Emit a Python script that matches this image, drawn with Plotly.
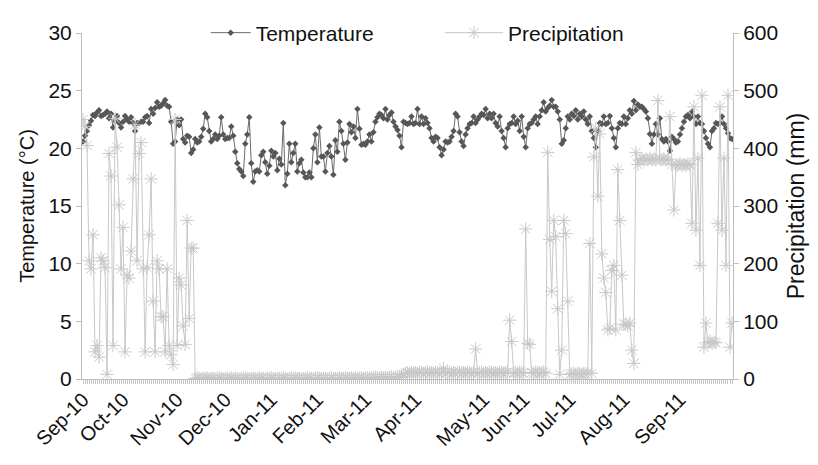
import plotly.graph_objects as go

# ---- data ----
month_labels = ["Sep-10", "Oct-10", "Nov-10", "Dec-10", "Jan-11", "Feb-11", "Mar-11",
                "Apr-11", "May-11", "Jun-11", "Jul-11", "Aug-11", "Sep-11"]
month_start_index = [0, 20, 47, 71, 94, 117, 141, 166, 200, 220, 243, 270, 298]

temperature = [
    20.6, 21.1, 21.5, 22.0, 22.4, 22.9, 22.8, 23.1, 23.3, 22.8,
    22.9, 23.0, 23.2, 22.6, 23.0, 21.8, 22.4, 22.8, 22.2, 21.8,
    22.3, 22.8, 22.5, 22.3, 22.7, 22.2, 21.5, 22.2, 22.2, 22.3,
    22.3, 22.7, 22.8, 22.2, 23.4, 23.0, 23.5, 24.0, 23.6, 23.7,
    23.9, 24.2, 23.7, 23.6, 22.3, 20.4, 20.6, 22.5, 22.0, 22.5,
    20.8, 20.5, 21.1, 21.0, 19.6, 19.9, 20.8, 20.5, 20.6, 21.0,
    21.7, 23.0, 22.7, 21.5, 20.6, 20.8, 21.2, 20.8, 21.1, 22.7,
    21.2, 20.8, 20.9, 20.9, 21.9, 21.1, 19.7, 18.7, 18.2, 18.0,
    17.6, 20.4, 21.2, 22.7, 18.7, 17.1, 18.0, 18.1, 18.0, 19.4,
    19.7, 18.8, 17.8, 18.5, 19.8, 19.3, 19.6, 18.1, 19.1, 18.6,
    22.2, 16.8, 17.8, 20.4, 18.8, 19.6, 20.4, 18.0, 18.7, 19.0,
    17.9, 17.5, 17.5, 17.9, 17.5, 20.0, 21.2, 18.8, 21.8, 19.3,
    19.3, 18.0, 19.6, 20.2, 19.3, 17.7, 20.7, 19.7, 22.3, 21.5,
    20.4, 19.0, 20.5, 22.1, 21.4, 21.9, 20.9, 23.4, 21.7, 20.3,
    20.4, 20.3, 20.6, 21.2, 20.6, 21.4, 22.3, 22.7, 23.0, 22.9,
    22.6, 23.4, 22.5, 22.9, 23.1, 22.3, 21.9, 21.6, 21.1, 20.1,
    22.3, 22.2, 22.1, 22.2, 22.75, 22.1, 22.2, 23.4, 22.1, 22.75,
    22.1, 22.6, 22.2, 21.75, 20.9, 20.6, 21.0, 20.9, 20.1, 19.4,
    19.9, 20.6, 20.5, 20.6, 21.0, 21.5, 23.0, 22.75, 21.4, 20.6,
    20.2, 21.2, 21.75, 22.1, 22.2, 22.75, 22.2, 22.5, 22.75, 23.0,
    22.9, 23.4, 22.6, 23.0, 22.6, 23.0, 22.2, 21.9, 22.75, 21.5,
    20.9, 20.1, 21.75, 22.1, 22.2, 22.75, 22.1, 22.4, 21.5, 22.75,
    21.0, 20.1, 21.75, 22.1, 22.2, 22.5, 22.75, 22.1, 22.75, 23.3,
    24.0, 23.2, 23.5, 23.7, 24.2, 23.6, 23.6, 23.2, 22.5, 20.4,
    20.7, 21.75, 22.75, 22.5, 23.0, 22.8, 23.3, 22.5, 23.0, 22.75,
    23.2, 22.5, 22.1, 22.75, 21.5, 20.9, 20.1, 21.5, 22.2, 22.1,
    22.75, 22.1, 22.2, 22.8, 21.75, 20.9, 20.1, 21.75, 22.2, 22.1,
    22.75, 22.1, 22.6, 23.3, 23.0, 24.1, 23.3, 23.8, 23.6, 23.6,
    23.4, 23.2, 22.6, 21.25, 20.4, 21.2, 22.1, 21.2, 22.6, 20.8,
    20.6, 20.8, 20.6, 19.8, 21.0, 20.8, 20.5, 20.6, 21.2, 21.75,
    22.3, 22.75, 22.9, 22.6, 23.2, 22.75, 22.1, 22.75, 22.2, 22.1,
    21.5, 20.9, 20.4, 20.1, 21.5, 21.75, 22.2, 22.1, 22.2, 22.75,
    22.1, 21.75, 21.3, 20.9, 20.8,
]

precipitation = [
    450, 438, 405, 205, 191, 250, 47, 58, 38, 210,
    205, 193, 8, 391, 352, 58, 452, 402, 302, 191,
    263, 47, 180, 175, 222, 347, 441, 205, 391, 410,
    191, 47, 193, 250, 347, 135, 47, 205, 191, 108,
    108, 47, 191, 58, 42, 25, 450, 58, 175, 163,
    92, 60, 275, 105, 227, 227,
    1, 2, 1, 0,
    1, 1, 2, 0, 1, 1, 0, 1, 2, 1,
    0, 1, 1, 1, 2, 0, 1, 1, 0, 1,
    1, 2, 1, 0, 1, 1, 1, 0, 2, 1,
    1, 0, 1, 1, 2, 1, 0, 1, 1, 1,
    2, 1, 0, 1, 1, 1, 2, 1, 1, 0,
    1, 1, 2, 1, 1, 0, 1, 2, 1, 1,
    1, 1, 0, 1, 2, 1, 1, 1, 2, 1,
    1, 2, 1, 1, 2, 1, 2, 1, 2, 2,
    1, 2, 2, 1, 2, 2, 3, 2, 2, 3,
    2, 3, 2, 3, 3, 2, 3, 4, 3, 4,
    8,
    10, 11, 10, 12, 10, 11, 10, 12, 11,
    10, 11, 12, 10, 11, 10, 12, 11, 10, 11,
    18, 10, 11, 12, 10, 11, 10, 11, 12, 10,
    11, 10, 12, 11, 10, 11, 52, 10, 11, 12,
    10, 11, 10, 12, 11, 10, 11, 10, 12, 11,
    10, 11, 12, 102, 65, 10, 11, 10, 12, 11,
    10, 260, 62, 60, 11, 10, 12, 11, 10, 11,
    12, 10,
    393, 242, 152, 275, 247, 122, 8, 50, 275, 252, 135, 8,
    9, 10, 8, 10, 9, 8, 10, 9, 10,
    235, 10, 385, 435, 317, 425, 217,
    175, 150, 85, 88, 188, 197, 85, 363, 275, 180,
    95, 95, 92, 97, 50, 27, 393, 372,
    380, 382, 379, 381, 380, 383, 380, 381, 380, 483, 381, 380,
    382, 379, 381, 455, 372, 293, 372, 370, 373, 371,
    372, 370, 373, 372, 270, 472, 258, 383, 197, 492,
    55, 97, 63, 65, 62, 64, 63, 270, 472, 258,
    383, 197, 492, 55, 97,
]

n_days = len(temperature)
day_index = list(range(n_days))

FONT = "Liberation Sans, Arial, sans-serif"
AXIS_GRAY = "#bdbdbd"

fig = go.Figure()
fig.add_trace(go.Scatter(
    x=day_index, y=temperature, name="Temperature", mode="lines+markers",
    line=dict(color="#6a6a6a", width=1),
    marker=dict(symbol="diamond", size=5, color="#575757"),
    yaxis="y", legend="legend",
))
fig.add_trace(go.Scatter(
    x=day_index[:len(precipitation)], y=precipitation, name="Precipitation", mode="lines+markers",
    line=dict(color="#c8c8c8", width=1),
    marker=dict(symbol="asterisk-open", size=11, line=dict(color="#bdbdbd", width=1)),
    yaxis="y2", legend="legend2",
))

fig.update_layout(
    width=818, height=465,
    margin=dict(l=82, r=85, t=18, b=86),
    paper_bgcolor="white", plot_bgcolor="white",
    font=dict(family=FONT, color="#111111", size=20),
    showlegend=True,
    legend=dict(orientation="h", x=0.19, xanchor="left", y=1.0, yanchor="middle",
                font=dict(size=21), bgcolor="rgba(0,0,0,0)", itemwidth=40),
    legend2=dict(orientation="h", x=0.55, xanchor="left", y=1.0, yanchor="middle",
                 font=dict(size=21), bgcolor="rgba(0,0,0,0)", itemwidth=58),
    xaxis=dict(
        range=[-0.5, n_days - 0.5], showgrid=False, zeroline=False,
        showline=True, linecolor=AXIS_GRAY, linewidth=1,
        tickmode="array", tickvals=month_start_index, ticktext=month_labels,
        tickangle=-45, ticks="", tickfont=dict(size=20),
        minor=dict(tickmode="linear", tick0=0, dtick=1, ticks="outside",
                   ticklen=4, tickcolor="#c4c4c4", tickwidth=1, showgrid=False),
    ),
    yaxis=dict(
        range=[0, 30], dtick=5, showgrid=False, zeroline=False,
        showline=True, linecolor=AXIS_GRAY, linewidth=1,
        ticks="outside", ticklen=5, tickcolor=AXIS_GRAY, tickfont=dict(size=21),
        title=dict(text="Temperature (°C)", font=dict(size=20), standoff=8),
    ),
    yaxis2=dict(
        range=[0, 600], dtick=100, overlaying="y", side="right",
        showgrid=False, zeroline=False,
        showline=True, linecolor=AXIS_GRAY, linewidth=1,
        ticks="outside", ticklen=5, tickcolor=AXIS_GRAY, tickfont=dict(size=21),
        title=dict(text="Precipitation (mm)", font=dict(size=23), standoff=10),
    ),
)

fig.write_html("out.html")
